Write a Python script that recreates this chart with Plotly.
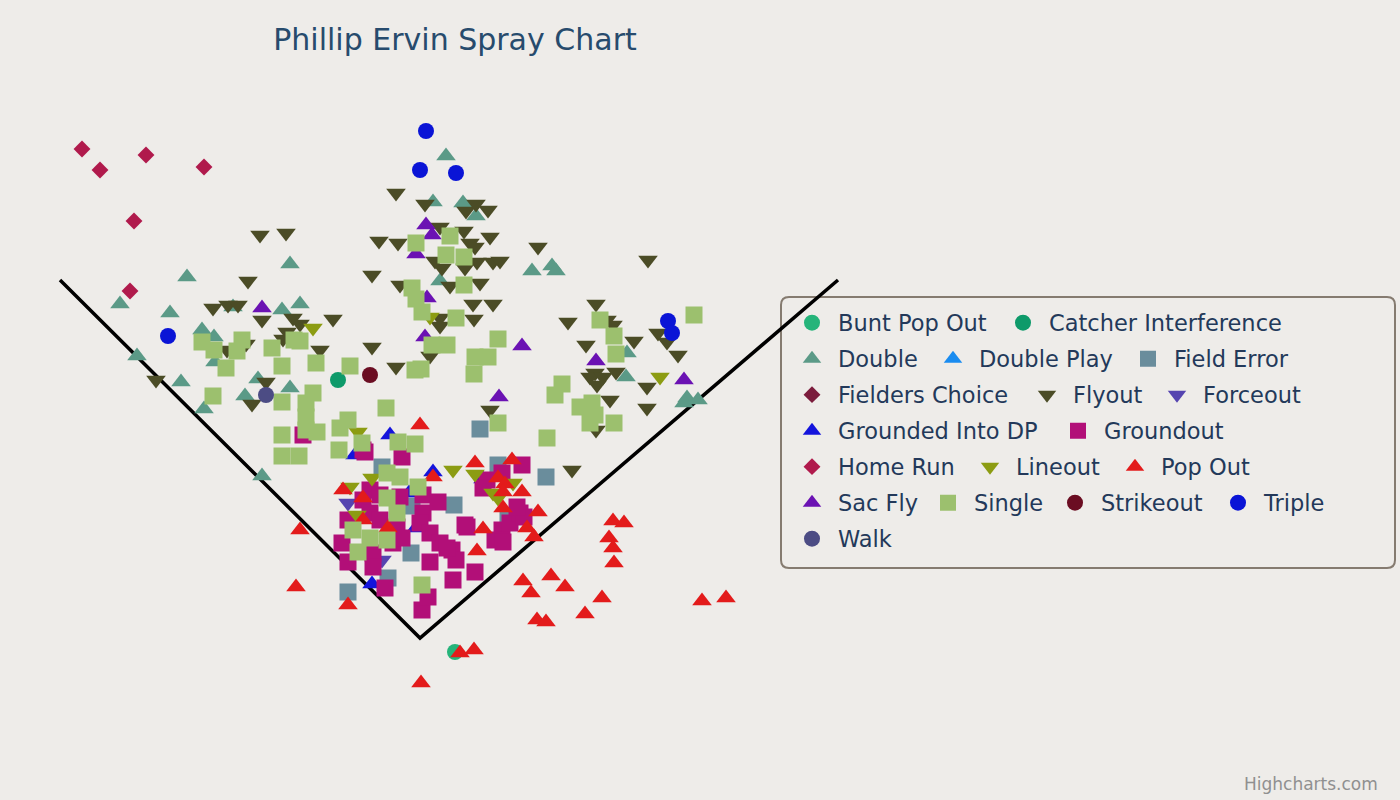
import plotly.graph_objects as go

# spray chart positions (x right, y down, home plate at 420,638)
foul_x = [60, 420, 838]
foul_y = [280, 638, 280]

bunt_pop_out = [(455, 652)]
catcher_interference = [(338, 380)]
double = [(446, 156), (433, 202), (463, 203), (476, 216), (440, 281), (532, 271), (552, 266),
          (556, 271), (290, 264), (187, 277), (120, 304), (170, 313), (202, 330), (214, 337),
          (215, 362), (282, 310), (300, 304), (233, 307), (137, 356), (181, 382), (258, 379),
          (290, 388), (245, 396), (204, 409), (262, 476), (627, 353), (626, 377), (687, 398),
          (698, 400), (684, 403)]
double_play = [(None, None)]
field_error = [(480, 429), (498, 465), (546, 477), (382, 467), (412, 506), (454, 505),
               (411, 553), (388, 578), (348, 592), (508, 520)]
fielders_choice = [(None, None)]
flyout = [(260, 235), (286, 233), (248, 281), (213, 308), (228, 305), (238, 305), (262, 320),
          (293, 318), (300, 324), (333, 319), (287, 332), (283, 339), (227, 350), (246, 344),
          (320, 350), (372, 347), (156, 380), (266, 382), (252, 404),
          (396, 193), (425, 204), (466, 211), (476, 204), (488, 210), (379, 241), (398, 243),
          (440, 227), (464, 231), (490, 237), (470, 243), (475, 247), (538, 247), (435, 261),
          (442, 268), (465, 268), (477, 262), (493, 262), (500, 261), (372, 275), (400, 285),
          (450, 286), (480, 283), (473, 304), (493, 304), (474, 319), (440, 318), (440, 326),
          (396, 367), (430, 356), (490, 410), (568, 322),
          (648, 260), (596, 304), (607, 320), (613, 325), (634, 341), (586, 345), (658, 333),
          (667, 342), (678, 355), (595, 373), (590, 377), (603, 377), (597, 385), (616, 372),
          (647, 387), (610, 400), (647, 408), (596, 430), (572, 470)]
forceout = [(348, 503), (382, 560)]
grounded_into_dp = [(390, 435), (355, 455), (433, 472), (409, 493), (416, 528), (372, 584),
                    (483, 479)]
groundout = [(365, 452), (402, 457), (370, 490), (363, 500), (380, 495), (400, 497), (423, 495),
             (348, 520), (370, 513), (380, 520), (397, 527), (423, 513), (420, 523), (342, 543),
             (348, 562), (373, 553), (373, 567), (393, 543), (430, 533), (440, 543), (430, 562),
             (452, 550), (456, 560), (453, 580), (475, 572), (467, 527), (502, 530), (495, 540),
             (510, 523), (520, 513), (487, 480), (502, 473), (522, 465), (483, 488), (524, 517),
             (385, 588), (422, 610), (428, 597), (447, 548), (503, 542), (402, 538), (438, 502),
             (303, 435), (363, 450), (517, 507), (465, 525)]
home_run = [(82, 149), (100, 170), (146, 155), (204, 167), (134, 221), (130, 291)]
lineout = [(313, 328), (358, 432), (430, 317), (660, 377), (453, 470), (475, 474), (350, 487),
           (372, 478), (357, 515), (493, 493), (513, 483), (498, 498)]
pop_out = [(420, 425), (475, 463), (512, 460), (343, 490), (363, 498), (433, 477), (498, 478),
           (505, 484), (503, 492), (522, 492), (503, 508), (538, 512), (483, 529), (527, 528),
           (534, 537), (477, 551), (300, 530), (296, 587), (348, 605), (421, 683), (460, 653),
           (474, 650), (613, 521), (624, 523), (609, 538), (613, 548), (614, 563), (523, 581),
           (531, 593), (551, 576), (565, 587), (602, 598), (585, 614), (537, 620), (546, 622),
           (702, 601), (726, 598), (363, 520), (388, 528)]
sac_fly = [(426, 225), (432, 235), (416, 254), (427, 298), (425, 337), (522, 346), (499, 397),
           (262, 308), (596, 361), (684, 380)]
single = [(416, 243), (450, 236), (446, 255), (464, 257), (464, 285), (412, 288), (416, 299),
          (422, 312), (456, 318),
          (498, 339), (432, 345), (447, 345), (475, 357), (488, 357), (474, 374), (415, 370),
          (421, 369),
          (202, 342), (214, 350), (226, 368), (242, 340), (237, 351), (272, 348), (294, 340),
          (300, 341), (282, 366), (316, 363), (350, 366), (213, 396), (282, 402), (313, 393),
          (306, 403), (306, 417), (306, 430), (317, 432), (282, 435), (282, 456), (299, 456),
          (340, 428), (348, 420), (339, 450), (362, 443), (386, 408), (398, 442), (415, 444),
          (600, 320), (614, 336), (616, 354), (694, 315), (562, 384), (555, 395), (580, 407),
          (592, 403), (595, 415), (590, 423), (614, 423), (547, 438), (498, 423),
          (387, 473), (400, 477), (418, 487), (387, 498), (397, 513), (353, 530), (370, 538),
          (387, 540), (358, 552), (422, 585)]
strikeout = [(370, 375)]
triple = [(426, 131), (420, 170), (456, 173), (168, 336), (668, 321), (672, 333)]
walk = [(266, 395)]

series = [
    ("Bunt Pop Out", bunt_pop_out, "circle", "#25b47a"),
    ("Catcher Interference", catcher_interference, "circle", "#0e9a6a"),
    ("Double", double, "triangle-up", "#5b9a87"),
    ("Double Play", double_play, "triangle-up", "#1a8cf0"),
    ("Field Error", field_error, "square", "#6a8d9c"),
    ("Fielders Choice", fielders_choice, "diamond", "#7b1c3c"),
    ("Flyout", flyout, "triangle-down", "#4b4c26"),
    ("Forceout", forceout, "triangle-down", "#5544b0"),
    ("Grounded Into DP", grounded_into_dp, "triangle-up", "#1414dc"),
    ("Groundout", groundout, "square", "#b20f78"),
    ("Home Run", home_run, "diamond", "#b01a4c"),
    ("Lineout", lineout, "triangle-down", "#8c9c12"),
    ("Pop Out", pop_out, "triangle-up", "#e31b1b"),
    ("Sac Fly", sac_fly, "triangle-up", "#6b12b3"),
    ("Single", single, "square", "#9cc06e"),
    ("Strikeout", strikeout, "circle", "#6b0d22"),
    ("Triple", triple, "circle", "#0a14d6"),
    ("Walk", walk, "circle", "#4c4c84"),
]

SIZES = {"circle": 16, "square": 17, "triangle-up": 17, "triangle-down": 17, "diamond": 13}

# legend rows, laid out like the highcharts box (marker centres in px)
legend_rows = [
    (["Bunt Pop Out", "Catcher Interference"], [812, 1023]),
    (["Double", "Double Play", "Field Error"], [812, 953, 1148]),
    (["Fielders Choice", "Flyout", "Forceout"], [812, 1047, 1177]),
    (["Grounded Into DP", "Groundout"], [812, 1078]),
    (["Home Run", "Lineout", "Pop Out"], [812, 990, 1135]),
    (["Sac Fly", "Single", "Strikeout", "Triple"], [812, 948, 1075, 1238]),
    (["Walk"], [812]),
]
ITEM_W = 42
TEXT_GAP = ITEM_W + 10
ITEM_GAP = 5
ROW_TOP = 323
ROW_STEP = 36

W, H = 1400, 800
BG = "#eeece9"

where = {}
for i, (names, marks) in enumerate(legend_rows):
    for j, n in enumerate(names):
        lw = None
        if j < len(names) - 1:
            lw = marks[j + 1] - marks[j] - TEXT_GAP - ITEM_GAP
        where[n] = ("legend" if i == 0 else "legend%d" % (i + 1), lw)

fig = go.Figure()

fig.add_trace(go.Scatter(x=foul_x, y=foul_y, mode="lines",
                         line=dict(color="black", width=3.5),
                         showlegend=False, hoverinfo="skip"))

for name, pts, sym, col in series:
    leg, lw = where[name]
    fig.add_trace(go.Scatter(
        x=[p[0] for p in pts], y=[p[1] for p in pts],
        mode="markers", name=name, legend=leg, legendwidth=lw, showlegend=True,
        marker=dict(symbol=sym, size=SIZES[sym], color=col, line=dict(width=0)),
    ))

legend_font = dict(family="DejaVu Sans", size=22.5, color="#23395a")
legends = {}
for i, (names, marks) in enumerate(legend_rows):
    key = "legend" if i == 0 else "legend%d" % (i + 1)
    legends[key] = dict(
        orientation="h", x=(marks[0] - TEXT_GAP / 2) / W, xanchor="left",
        y=1 - (ROW_TOP + ROW_STEP * i) / H, yanchor="middle",
        bgcolor="rgba(0,0,0,0)", borderwidth=0, itemwidth=ITEM_W,
        font=legend_font,
    )

# rounded legend frame
bx0, by0, bx1, by1, r = 781, 297, 1395, 568, 8
frame = (f"M {bx0 + r},{by0} L {bx1 - r},{by0} Q {bx1},{by0} {bx1},{by0 + r} "
         f"L {bx1},{by1 - r} Q {bx1},{by1} {bx1 - r},{by1} L {bx0 + r},{by1} "
         f"Q {bx0},{by1} {bx0},{by1 - r} L {bx0},{by0 + r} Q {bx0},{by0} {bx0 + r},{by0} Z")

fig.update_layout(
    width=W, height=H,
    margin=dict(l=0, r=0, t=0, b=0),
    paper_bgcolor=BG, plot_bgcolor=BG,
    title=dict(text="Phillip Ervin Spray Chart", x=455 / W, xanchor="center",
               y=1 - 39 / H, yanchor="middle", yref="container",
               font=dict(family="DejaVu Sans", size=30, color="#274b6d")),
    xaxis=dict(range=[0, W], visible=False, fixedrange=True),
    yaxis=dict(range=[H, 0], visible=False, fixedrange=True),
    shapes=[dict(type="path", path=frame, xref="x", yref="y",
                 line=dict(color="#857b70", width=2), layer="below")],
    annotations=[dict(text="Highcharts.com", x=1380, y=784, xref="x", yref="y",
                      xanchor="right", yanchor="middle", showarrow=False,
                      font=dict(family="DejaVu Sans", size=17, color="#909090"))],
    **legends,
)

# drop the browser's default 8px body margin so the chart fills the window
fig.write_html("out.html", config={"displayModeBar": False},
               post_script="document.body.style.margin = '0';")
